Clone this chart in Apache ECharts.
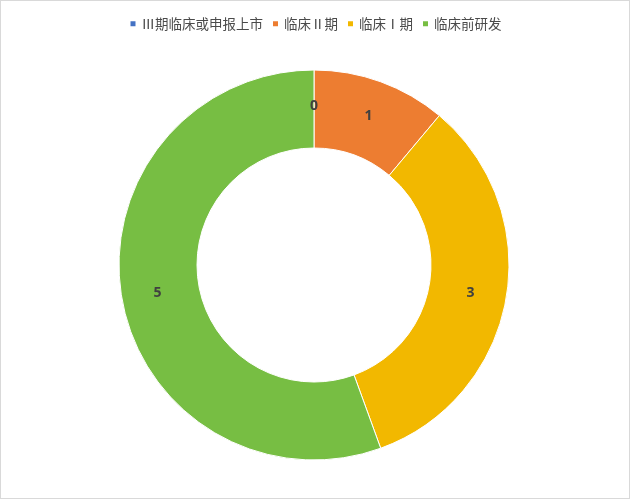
<!DOCTYPE html>
<html>
<head>
<meta charset="utf-8">
<script src="https://cdn.jsdelivr.net/npm/echarts@6/dist/echarts.min.js"></script>
<style>
  html, body { margin: 0; padding: 0; background: #fff; }
  #main { width: 628px; height: 497px; border: 1px solid #d9d9d9; }
</style>
</head>
<body>
<div id="main"></div>
<script>
// 研发阶段 & 数量
var stages = ['Ⅲ期临床或申报上市', '临床Ⅱ期', '临床Ⅰ期', '临床前研发'];
var counts = [0, 1, 3, 5];
var colors = ['#4472C4', '#ED7D31', '#F2B800', '#77BE43'];

var chart = echarts.init(document.getElementById('main'));

var option = {
    animation: false,
    color: colors,
    legend: {
        top: 11,
        left: 'center',
        itemWidth: 7,
        itemHeight: 7,
        itemGap: 8,
        icon: 'rect',
        data: stages,
        textStyle: {
            color: '#4a4a4a',
            fontSize: 13.5,
            fontFamily: 'Noto Sans CJK SC'
        }
    },
    series: [
        {
            name: '研发管线',
            type: 'pie',
            center: [313, 264],
            radius: [117, 195],
            startAngle: 90,
            clockwise: true,
            avoidLabelOverlap: false,
            itemStyle: {
                borderColor: '#fff',
                borderWidth: 1
            },
            label: {
                show: true,
                position: 'inside',
                formatter: '{c}',
                color: '#404040',
                fontSize: 14,
                fontWeight: 'bold',
                fontFamily: 'Noto Sans'
            },
            labelLine: { show: false },
            emphasis: { disabled: true },
            data: stages.map(function (s, i) {
                return { name: s, value: counts[i] };
            })
        }
    ]
};

chart.setOption(option);
</script>
</body>
</html>
